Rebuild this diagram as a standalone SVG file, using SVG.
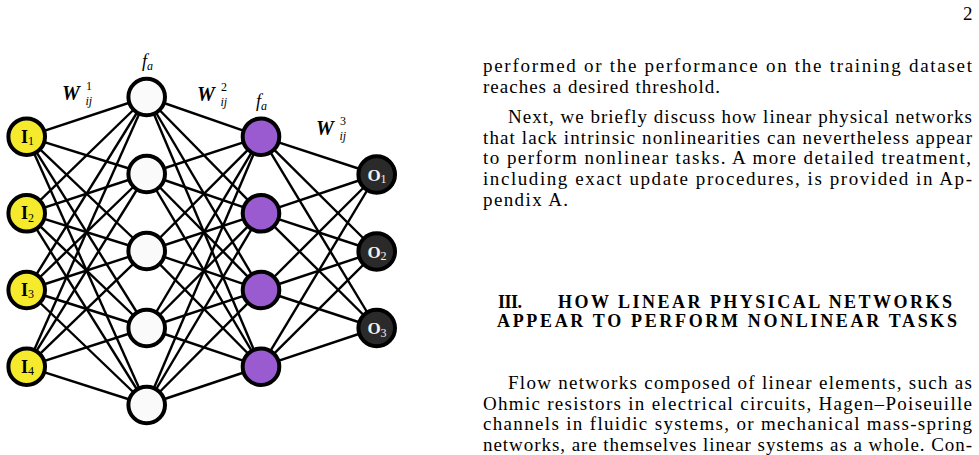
<svg xmlns="http://www.w3.org/2000/svg" width="979" height="455" viewBox="0 0 979 455">
<style>
.e{stroke:#000;stroke-width:2.4;fill:none}
.n{stroke:#000;stroke-width:4}
.in{fill:#f6ea2c}
.h1{fill:#fafafa}
.h2{fill:#9a5bd0}
.out{fill:#2a2a2a}
.nl{font-family:"Liberation Serif","DejaVu Serif",serif;font-weight:bold;font-size:18px;text-anchor:middle}
.ol{fill:#f2f2f2;font-size:17px}
.sub{font-size:12px;font-weight:normal}
.m{font-family:"Liberation Serif","DejaVu Serif",serif;font-style:italic}
.W{font-weight:bold;font-size:20px}
.s{font-size:12px;font-weight:normal}
.d{font-family:"Liberation Serif","DejaVu Serif",serif;font-size:12px}
.b{font-family:"Liberation Serif","DejaVu Serif",serif;font-size:19px;fill:#000}
.hd{font-family:"Liberation Serif","DejaVu Serif",serif;font-size:18px;font-weight:bold;fill:#000}
</style>
<rect width="979" height="455" fill="#fff"/>
<g id="connectors">
<line class="e" x1="26.7" y1="136.7" x2="146.7" y2="97"/><line class="e" x1="26.7" y1="136.7" x2="146.7" y2="174"/><line class="e" x1="26.7" y1="136.7" x2="146.7" y2="251"/><line class="e" x1="26.7" y1="136.7" x2="146.7" y2="328"/><line class="e" x1="26.7" y1="136.7" x2="146.7" y2="405"/>
<line class="e" x1="26.7" y1="213.3" x2="146.7" y2="97"/><line class="e" x1="26.7" y1="213.3" x2="146.7" y2="174"/><line class="e" x1="26.7" y1="213.3" x2="146.7" y2="251"/><line class="e" x1="26.7" y1="213.3" x2="146.7" y2="328"/><line class="e" x1="26.7" y1="213.3" x2="146.7" y2="405"/>
<line class="e" x1="26.7" y1="290" x2="146.7" y2="97"/><line class="e" x1="26.7" y1="290" x2="146.7" y2="174"/><line class="e" x1="26.7" y1="290" x2="146.7" y2="251"/><line class="e" x1="26.7" y1="290" x2="146.7" y2="328"/><line class="e" x1="26.7" y1="290" x2="146.7" y2="405"/>
<line class="e" x1="26.7" y1="366.7" x2="146.7" y2="97"/><line class="e" x1="26.7" y1="366.7" x2="146.7" y2="174"/><line class="e" x1="26.7" y1="366.7" x2="146.7" y2="251"/><line class="e" x1="26.7" y1="366.7" x2="146.7" y2="328"/><line class="e" x1="26.7" y1="366.7" x2="146.7" y2="405"/>
<line class="e" x1="146.7" y1="97" x2="261" y2="136.7"/><line class="e" x1="146.7" y1="97" x2="261" y2="213.3"/><line class="e" x1="146.7" y1="97" x2="261" y2="290"/><line class="e" x1="146.7" y1="97" x2="261" y2="366.7"/>
<line class="e" x1="146.7" y1="174" x2="261" y2="136.7"/><line class="e" x1="146.7" y1="174" x2="261" y2="213.3"/><line class="e" x1="146.7" y1="174" x2="261" y2="290"/><line class="e" x1="146.7" y1="174" x2="261" y2="366.7"/>
<line class="e" x1="146.7" y1="251" x2="261" y2="136.7"/><line class="e" x1="146.7" y1="251" x2="261" y2="213.3"/><line class="e" x1="146.7" y1="251" x2="261" y2="290"/><line class="e" x1="146.7" y1="251" x2="261" y2="366.7"/>
<line class="e" x1="146.7" y1="328" x2="261" y2="136.7"/><line class="e" x1="146.7" y1="328" x2="261" y2="213.3"/><line class="e" x1="146.7" y1="328" x2="261" y2="290"/><line class="e" x1="146.7" y1="328" x2="261" y2="366.7"/>
<line class="e" x1="146.7" y1="405" x2="261" y2="136.7"/><line class="e" x1="146.7" y1="405" x2="261" y2="213.3"/><line class="e" x1="146.7" y1="405" x2="261" y2="290"/><line class="e" x1="146.7" y1="405" x2="261" y2="366.7"/>
<line class="e" x1="261" y1="136.7" x2="376.7" y2="174.5"/><line class="e" x1="261" y1="136.7" x2="376.7" y2="251.5"/><line class="e" x1="261" y1="136.7" x2="376.7" y2="328"/>
<line class="e" x1="261" y1="213.3" x2="376.7" y2="174.5"/><line class="e" x1="261" y1="213.3" x2="376.7" y2="251.5"/><line class="e" x1="261" y1="213.3" x2="376.7" y2="328"/>
<line class="e" x1="261" y1="290" x2="376.7" y2="174.5"/><line class="e" x1="261" y1="290" x2="376.7" y2="251.5"/><line class="e" x1="261" y1="290" x2="376.7" y2="328"/>
<line class="e" x1="261" y1="366.7" x2="376.7" y2="174.5"/><line class="e" x1="261" y1="366.7" x2="376.7" y2="251.5"/><line class="e" x1="261" y1="366.7" x2="376.7" y2="328"/>
</g>
<g id="I1"><circle class="n in" cx="26.7" cy="136.7" r="18.3"/><text class="nl" x="27.5" y="142.5">I<tspan class="sub" dy="2.5">1</tspan></text></g>
<g id="I2"><circle class="n in" cx="26.7" cy="213.3" r="18.3"/><text class="nl" x="27.5" y="219.1">I<tspan class="sub" dy="2.5">2</tspan></text></g>
<g id="I3"><circle class="n in" cx="26.7" cy="290" r="18.3"/><text class="nl" x="27.5" y="295.8">I<tspan class="sub" dy="2.5">3</tspan></text></g>
<g id="I4"><circle class="n in" cx="26.7" cy="366.7" r="18.3"/><text class="nl" x="27.5" y="372.5">I<tspan class="sub" dy="2.5">4</tspan></text></g>
<g id="H1_1"><circle class="n h1" cx="146.7" cy="97" r="18.3"/></g>
<g id="H1_2"><circle class="n h1" cx="146.7" cy="174" r="18.3"/></g>
<g id="H1_3"><circle class="n h1" cx="146.7" cy="251" r="18.3"/></g>
<g id="H1_4"><circle class="n h1" cx="146.7" cy="328" r="18.3"/></g>
<g id="H1_5"><circle class="n h1" cx="146.7" cy="405" r="18.3"/></g>
<g id="H2_1"><circle class="n h2" cx="261" cy="136.7" r="18.3"/></g>
<g id="H2_2"><circle class="n h2" cx="261" cy="213.3" r="18.3"/></g>
<g id="H2_3"><circle class="n h2" cx="261" cy="290" r="18.3"/></g>
<g id="H2_4"><circle class="n h2" cx="261" cy="366.7" r="18.3"/></g>
<g id="O1"><circle class="n out" cx="376.7" cy="174.5" r="18.3"/><text class="nl ol" x="377" y="180.5">O<tspan class="sub" dy="2.5">1</tspan></text></g>
<g id="O2"><circle class="n out" cx="376.7" cy="251.5" r="18.3"/><text class="nl ol" x="377" y="257.5">O<tspan class="sub" dy="2.5">2</tspan></text></g>
<g id="O3"><circle class="n out" cx="376.7" cy="328" r="18.3"/><text class="nl ol" x="377" y="334">O<tspan class="sub" dy="2.5">3</tspan></text></g>
<g id="labels">
<text class="m" x="142" y="67" font-size="18">f<tspan font-size="12" dy="3">a</tspan></text>
<text class="m" x="256" y="107" font-size="18">f<tspan font-size="12" dy="3">a</tspan></text>
<text class="m W" x="62" y="100">W</text><text class="d" x="86" y="90">1</text><text class="m s" x="85.5" y="105">ij</text>
<text class="m W" x="197" y="101">W</text><text class="d" x="221" y="91">2</text><text class="m s" x="220.5" y="106">ij</text>
<text class="m W" x="316" y="135">W</text><text class="d" x="340" y="125">3</text><text class="m s" x="339.5" y="140">ij</text>
</g>
<g id="page-text">
<text class="b" x="963" y="20">2</text>
<text class="b" x="483" y="72" textLength="489" lengthAdjust="spacing">performed or the performance on the training dataset</text>
<text class="b" x="483" y="92.7" textLength="237" lengthAdjust="spacing">reaches a desired threshold.</text>
<text class="b" x="508" y="123" textLength="464" lengthAdjust="spacing">Next, we briefly discuss how linear physical networks</text>
<text class="b" x="483" y="143.7" textLength="489" lengthAdjust="spacing">that lack intrinsic nonlinearities can nevertheless appear</text>
<text class="b" x="483" y="164.4" textLength="488" lengthAdjust="spacing">to perform nonlinear tasks.  A more detailed treatment,</text>
<text class="b" x="483" y="185" textLength="489" lengthAdjust="spacing">including exact update procedures, is provided in Ap-</text>
<text class="b" x="483" y="205.7" textLength="85" lengthAdjust="spacing">pendix A.</text>
<text class="hd" x="498" y="308" textLength="24" lengthAdjust="spacing">III.</text>
<text class="hd" x="558" y="308" textLength="394" lengthAdjust="spacing">HOW LINEAR PHYSICAL NETWORKS</text>
<text class="hd" x="497" y="327" textLength="460" lengthAdjust="spacing">APPEAR TO PERFORM NONLINEAR TASKS</text>
<text class="b" x="508" y="389" textLength="464" lengthAdjust="spacing">Flow networks composed of linear elements, such as</text>
<text class="b" x="483" y="409.7" textLength="489" lengthAdjust="spacing">Ohmic resistors in electrical circuits, Hagen–Poiseuille</text>
<text class="b" x="483" y="430.4" textLength="489" lengthAdjust="spacing">channels in fluidic systems, or mechanical mass-spring</text>
<text class="b" x="483" y="451" textLength="489" lengthAdjust="spacing">networks, are themselves linear systems as a whole. Con-</text>
</g>
</svg>
